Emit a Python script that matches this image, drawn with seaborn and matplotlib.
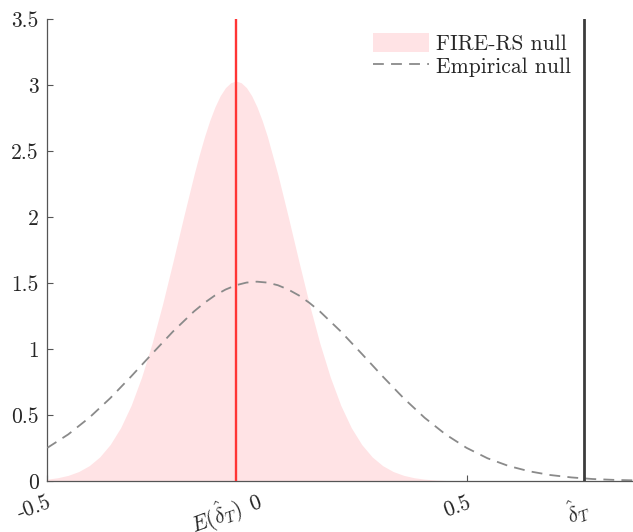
import numpy as np
import pandas as pd
import matplotlib
matplotlib.use("Agg")
import matplotlib.pyplot as plt
import seaborn as sns

# ---- data ----
emp_x = [-0.50, -0.45, -0.40, -0.35, -0.30, -0.25, -0.20, -0.15, -0.125, -0.10, -0.075, -0.05, -0.025,
         0.00, 0.025, 0.05, 0.075, 0.10, 0.125, 0.15, 0.20, 0.25, 0.30, 0.35, 0.40, 0.45,
         0.50, 0.55, 0.60, 0.65, 0.70, 0.75, 0.80, 0.85, 0.90]
emp_y = [0.251, 0.353, 0.479, 0.627, 0.792, 0.964, 1.133, 1.285, 1.350, 1.406, 1.450, 1.483, 1.503,
         1.510, 1.503, 1.483, 1.450, 1.406, 1.350, 1.285, 1.133, 0.964, 0.792, 0.627, 0.479, 0.353,
         0.251, 0.172, 0.114, 0.073, 0.045, 0.027, 0.015, 0.0085, 0.0045]

fire_x = [-0.500, -0.475, -0.450, -0.425, -0.400, -0.375, -0.350, -0.325, -0.300, -0.275,
          -0.250, -0.225, -0.200, -0.175, -0.150, -0.1375, -0.125, -0.1125, -0.100, -0.0875,
          -0.075, -0.0625, -0.050, -0.0375, -0.025, -0.0125,
          0.000, 0.0125, 0.025, 0.050, 0.075, 0.100, 0.125, 0.150, 0.175, 0.200, 0.225,
          0.250, 0.275, 0.300, 0.325, 0.350, 0.375, 0.400, 0.425, 0.450]
fire_y = [0.0138, 0.0247, 0.0427, 0.0716, 0.116, 0.182, 0.276, 0.404, 0.573, 0.787,
          1.044, 1.340, 1.664, 1.998, 2.321, 2.471, 2.609, 2.731, 2.835, 2.919,
          2.980, 3.017, 3.030, 3.017, 2.980, 2.919,
          2.835, 2.731, 2.609, 2.321, 1.998, 1.664, 1.340, 1.044, 0.787, 0.573, 0.404,
          0.276, 0.182, 0.116, 0.0716, 0.0427, 0.0247, 0.0138, 0.0074, 0.0039]

e_delta = -0.05      # E(delta_T)
delta_T = 0.78       # observed delta_T

xtick_vals = [-0.5, e_delta, 0.0, 0.5, delta_T]
xtick_labels = ['-0.5', r'$E(\hat{\delta}_T)$', '0', '0.5', r'$\hat{\delta}_T$']
ytick_vals = [0, 0.5, 1, 1.5, 2, 2.5, 3, 3.5]
ytick_labels = ['0', '0.5', '1', '1.5', '2', '2.5', '3', '3.5']

sns.set_style("ticks")
plt.rcParams['font.family'] = ['cmr10', 'DejaVu Serif']
plt.rcParams['mathtext.fontset'] = 'cm'
plt.rcParams['axes.unicode_minus'] = False

FS = 15.5

fig = plt.figure(figsize=(6.33, 5.32), dpi=100)
ax = fig.add_axes([0.0747, 0.0959, 0.9253, 0.8684])

emp_df = pd.DataFrame({'x': emp_x, 'y': emp_y})
fire_df = pd.DataFrame({'x': fire_x, 'y': fire_y})

ax.fill_between(fire_df['x'], 0, fire_df['y'], color='#ffe3e5', linewidth=0,
                label='FIRE-RS null', zorder=1)
sns.lineplot(data=emp_df, x='x', y='y', ax=ax, color='#8a8a8a', linewidth=1.3,
             dashes=False, label='Empirical null', zorder=3)
ax.lines[-1].set_dashes([6, 4])

ax.axvline(e_delta, color='#ff3535', linewidth=1.7, zorder=4)
ax.axvline(delta_T, color='#3c3c3c', linewidth=2.0, zorder=4)

ax.set_xlim(-0.5, 0.897)
ax.set_ylim(0, 3.5)
ax.set_xlabel('')
ax.set_ylabel('')

ax.set_xticks(xtick_vals)
ax.set_xticklabels(xtick_labels, fontsize=FS, rotation=20,
                   ha='right', rotation_mode='anchor')
ax.set_yticks(ytick_vals)
ax.set_yticklabels(ytick_labels, fontsize=FS)
ax.tick_params(direction='in', length=4, width=0.8, color='#555555')
ax.tick_params(axis='y', pad=6)
ax.tick_params(axis='x', pad=8.5)

for side in ['top', 'right']:
    ax.spines[side].set_visible(False)
for side in ['left', 'bottom']:
    ax.spines[side].set_color('#555555')
    ax.spines[side].set_linewidth(0.9)

leg = ax.legend(loc='upper right', bbox_to_anchor=(0.927, 1.012), frameon=False,
                fontsize=FS, handlelength=2.6, handleheight=1.0,
                handletextpad=0.3, labelspacing=0.1)

fig.savefig('out.png', dpi=100)
